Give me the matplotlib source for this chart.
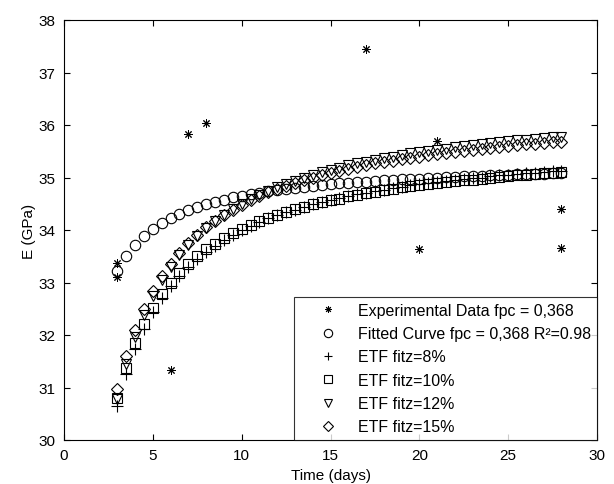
import matplotlib
matplotlib.use('Agg')
import matplotlib.pyplot as plt

plt.rcParams['font.family'] = ['Liberation Sans', 'DejaVu Sans']

# experimental points
exp_days = [3, 3, 6, 7, 8, 17, 20, 21, 28, 28]
exp_E = [33.38, 33.10, 31.33, 35.83, 36.04, 37.45, 33.64, 35.70, 34.40, 33.66]

# time grid of the model curves (days)
days = [3, 3.5, 4, 4.5, 5, 5.5, 6, 6.5, 7, 7.5, 8, 8.5, 9, 9.5, 10, 10.5,
        11, 11.5, 12, 12.5, 13, 13.5, 14, 14.5, 15, 15.5, 16, 16.5, 17, 17.5,
        18, 18.5, 19, 19.5, 20, 20.5, 21, 21.5, 22, 22.5, 23, 23.5, 24, 24.5,
        25, 25.5, 26, 26.5, 27, 27.5, 28]

fitted = [33.22, 33.50, 33.71, 33.88, 34.02, 34.13, 34.23, 34.31, 34.38, 34.44,
          34.49, 34.54, 34.58, 34.62, 34.65, 34.68, 34.71, 34.74, 34.76, 34.78,
          34.80, 34.82, 34.84, 34.86, 34.87, 34.89, 34.90, 34.91, 34.92, 34.94,
          34.95, 34.96, 34.97, 34.98, 34.98, 34.99, 35.00, 35.01, 35.01, 35.02,
          35.03, 35.03, 35.04, 35.05, 35.05, 35.06, 35.06, 35.07, 35.07, 35.08,
          35.08]

etf8 = [30.65, 31.25, 31.73, 32.12, 32.43, 32.70, 32.93, 33.13, 33.30, 33.45,
        33.59, 33.70, 33.81, 33.91, 34.00, 34.08, 34.15, 34.22, 34.28, 34.34,
        34.39, 34.44, 34.49, 34.53, 34.57, 34.61, 34.64, 34.68, 34.71, 34.74,
        34.77, 34.80, 34.82, 34.85, 34.87, 34.89, 34.91, 34.93, 34.95, 34.97,
        34.99, 35.00, 35.02, 35.04, 35.05, 35.07, 35.08, 35.09, 35.11, 35.12,
        35.13]

etf10 = [30.80, 31.38, 31.84, 32.21, 32.52, 32.78, 33.00, 33.19, 33.35, 33.50,
         33.63, 33.74, 33.84, 33.94, 34.02, 34.10, 34.17, 34.23, 34.29, 34.34,
         34.40, 34.44, 34.49, 34.53, 34.57, 34.60, 34.64, 34.67, 34.70, 34.73,
         34.76, 34.78, 34.81, 34.83, 34.85, 34.87, 34.89, 34.91, 34.93, 34.95,
         34.96, 34.98, 35.00, 35.01, 35.02, 35.04, 35.05, 35.06, 35.08, 35.09,
         35.10]

etf12 = [30.78, 31.44, 31.97, 32.39, 32.75, 33.04, 33.30, 33.52, 33.71, 33.88,
         34.03, 34.17, 34.29, 34.40, 34.50, 34.59, 34.67, 34.74, 34.82, 34.88,
         34.94, 35.00, 35.05, 35.10, 35.15, 35.19, 35.23, 35.27, 35.30, 35.34,
         35.37, 35.40, 35.43, 35.46, 35.48, 35.51, 35.53, 35.55, 35.58, 35.60,
         35.62, 35.64, 35.66, 35.67, 35.69, 35.71, 35.72, 35.74, 35.75, 35.77,
         35.78]

etf15 = [30.97, 31.60, 32.10, 32.50, 32.84, 33.12, 33.36, 33.57, 33.75, 33.91,
         34.05, 34.17, 34.29, 34.39, 34.48, 34.57, 34.64, 34.72, 34.78, 34.84,
         34.90, 34.95, 35.00, 35.04, 35.09, 35.13, 35.17, 35.20, 35.24, 35.27,
         35.30, 35.32, 35.35, 35.38, 35.40, 35.43, 35.45, 35.47, 35.49, 35.51,
         35.53, 35.55, 35.56, 35.58, 35.60, 35.61, 35.63, 35.64, 35.65, 35.67,
         35.68]

labels = ['Experimental Data fpc = 0,368',
          'Fitted Curve fpc = 0,368 R\u00b2=0.98',
          'ETF fitz=8%', 'ETF fitz=10%', 'ETF fitz=12%', 'ETF fitz=15%']

fig = plt.figure(figsize=(6.14, 4.85), dpi=100)
ax = fig.add_axes([64/614, 44/485, 533/614, 420/485])

mk = dict(linestyle='none', color='k', markerfacecolor='none', markeredgewidth=0.8)
ax.plot(exp_days, exp_E, marker=(8, 2, 0), markersize=6, markeredgewidth=0.7,
        linestyle='none', color='k')
ax.plot(days, fitted, marker='o', markersize=7.5, **mk)
ax.plot(days, etf8, marker='+', markersize=8, **mk)
ax.plot(days, etf10, marker='s', markersize=6.5, **mk)
ax.plot(days, etf12, marker='v', markersize=7.5, **mk)
ax.plot(days, etf15, marker='D', markersize=6, **mk)

ax.set_xlim(0, 30)
ax.set_ylim(30, 38)
ax.set_xticks([0, 5, 10, 15, 20, 25, 30])
ax.set_yticks([30, 31, 32, 33, 34, 35, 36, 37, 38])
ax.tick_params(direction='in', top=True, right=True, length=4, width=0.8,
               labelsize=11, pad=6)
for s in ax.spines.values():
    s.set_linewidth(0.8)
ax.set_xlabel('Time (days)', fontsize=11)
ax.set_ylabel('E (GPa)', fontsize=11, labelpad=2)

leg = ax.legend(labels, loc='lower right', fontsize=11.5, frameon=True,
                fancybox=False, borderaxespad=0, borderpad=0.35,
                handlelength=3.6, handletextpad=0.1, labelspacing=0.52,
                markerscale=0.8)
leg.get_frame().set_edgecolor('k')
leg.get_frame().set_linewidth(0.8)

fig.savefig('out.png', dpi=100)
